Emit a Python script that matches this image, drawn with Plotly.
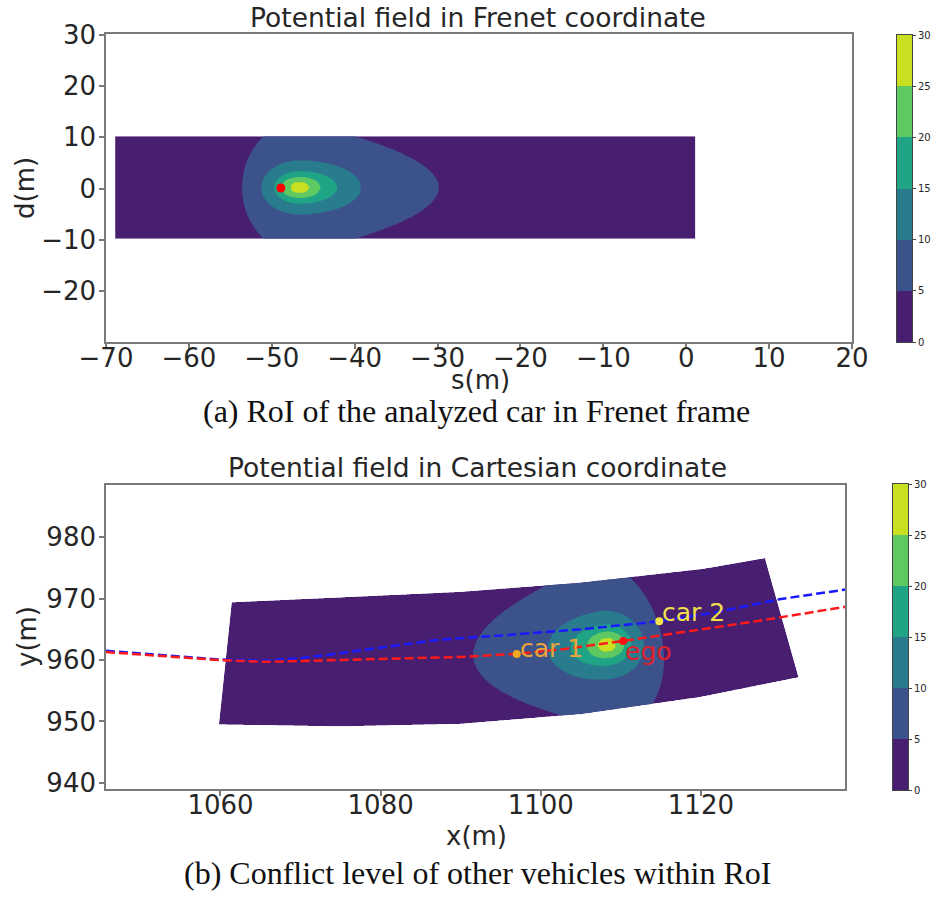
import numpy as np
import plotly.graph_objects as go

# ---------------- data ----------------
# Region of interest in Frenet coordinates (m)
road_s_range = [-68.9, 1.1]
road_d_range = [-9.8, 10.2]

# Potential field: peak position and extent of each iso-level around it (m)
field_peak_s = -46.6
field_peak_d = 0.2
field_levels = [0, 5, 10, 15, 20, 25, 28]
level_behind = [20.0, 7.0, 4.7, 3.1, 2.3, 1.2, 0.3]    # towards -s
level_ahead = [45.0, 16.8, 7.4, 4.5, 2.5, 1.2, 0.3]    # towards +s
level_side = [30.0, 12.9, 5.3, 3.2, 2.1, 1.15, 0.3]    # lateral (d)
level_ahead_power = [2, 1, 2, 2, 2, 2, 2]

ego_s = [-48.9]
ego_d = [0.1]

# Road edges in Cartesian coordinates, ordered from s_min to s_max
road_lower_x = [1132.2, 1120.0, 1105.0, 1090.0, 1075.0, 1059.8]
road_lower_y = [957.2, 954.0, 951.2, 949.6, 949.2, 949.5]
road_upper_x = [1128.0, 1120.0, 1105.0, 1090.0, 1075.0, 1061.4]
road_upper_y = [976.6, 974.8, 972.6, 971.1, 970.2, 969.4]

# Trajectories (m)
ego_path_x = [1045.7, 1052.0, 1059.8, 1065.5, 1072.0, 1082.3, 1090.0, 1097.0,
              1103.0, 1110.3, 1119.8, 1127.3, 1138.2]
ego_path_y = [961.3, 960.7, 960.0, 959.7, 959.9, 960.3, 960.5, 961.0,
              961.8, 963.1, 964.9, 966.4, 968.7]
car2_path_x = [1045.7, 1059.8, 1065.5, 1070.0, 1076.0, 1082.3, 1087.3, 1095.0,
               1105.0, 1114.8, 1122.0, 1129.8, 1138.2]
car2_path_y = [961.5, 960.1, 959.9, 960.3, 961.3, 962.4, 963.3, 964.0,
               965.0, 966.3, 967.8, 969.9, 971.5]

# Vehicles in Cartesian coordinates
veh_names = ["car 1", "car 2", "ego"]
veh_x = [1097.0, 1114.8, 1110.3]
veh_y = [961.0, 966.3, 963.1]
veh_colors = ["#f5a623", "#f2e24a", "#ff1010"]
veh_text_colors = ["#eaa43a", "#f0e04a", "#e0202a"]
veh_label_shift = [(1, -11), (1, -8), (0, -27)]

# Band colours (viridis sampled at band centres) and colorbar ticks
band_colors = ["#481f70", "#3b528b", "#287c8e", "#20a486", "#5ec962", "#c8e020"]
band_edges = [0, 5, 10, 15, 20, 25, 30]

# ---------------- field on the Frenet grid ----------------
s_grid = np.linspace(road_s_range[0], road_s_range[1], 281)
d_grid = np.linspace(road_d_range[0], road_d_range[1], 81)
S, D = np.meshgrid(s_grid, d_grid)
ds = S - field_peak_s
dd = D - field_peak_d
r = []
for beh, ahd, side, p in zip(level_behind, level_ahead, level_side, level_ahead_power):
    along = np.where(ds >= 0, (np.abs(ds) / ahd) ** p, (np.abs(ds) / beh) ** 2)
    r.append(along + (dd / side) ** 2)
r = np.maximum.accumulate(np.array(r), axis=0)
z = np.empty_like(S)
for idx in np.ndindex(S.shape):
    z[idx] = np.interp(1.0, r[(slice(None),) + idx], field_levels)

# ---------------- Frenet -> Cartesian grid for the carpet ----------------
def resample_edge(xs, ys, t):
    xs = np.asarray(xs); ys = np.asarray(ys)
    seg = np.hypot(np.diff(xs), np.diff(ys))
    cum = np.concatenate([[0.0], np.cumsum(seg)]) / seg.sum()
    return np.interp(t, cum, xs), np.interp(t, cum, ys)

t = (s_grid - road_s_range[0]) / (road_s_range[1] - road_s_range[0])
lx, ly = resample_edge(road_lower_x, road_lower_y, t)
ux, uy = resample_edge(road_upper_x, road_upper_y, t)
w = (d_grid - road_d_range[0]) / (road_d_range[1] - road_d_range[0])
X = ux[None, :] + w[:, None] * (lx - ux)[None, :]
Y = uy[None, :] + w[:, None] * (ly - uy)[None, :]

# ---------------- figure ----------------
W, H = 937, 899
def px(xp): return xp / W
def py(yp): return 1 - yp / H

band_scale = [[i / 5, c] for i, c in enumerate(band_colors)]
contour_levels = dict(start=5, end=25, size=5, coloring="fill", showlines=False)
FONT = "DejaVu Sans"
TXT = "#262626"
SPINE = "#7a7a7a"

fig = go.Figure()

# Frenet field
fig.add_trace(go.Contour(
    x=s_grid, y=d_grid, z=z, autocontour=False, contours=contour_levels,
    colorscale=band_scale, line=dict(width=0), xaxis="x", yaxis="y",
    showscale=False, hoverinfo="skip",
))
fig.add_trace(go.Scatter(
    x=ego_s, y=ego_d, mode="markers", marker=dict(color="#ff0000", size=9),
    xaxis="x", yaxis="y", showlegend=False,
))

# Cartesian field on the curved road
no_axis = dict(showgrid=False, showline=False, showticklabels="none",
               startline=False, endline=False, minorgridcount=0,
               gridcolor="rgba(0,0,0,0)", linecolor="rgba(0,0,0,0)")
fig.add_trace(go.Carpet(
    a=s_grid, b=d_grid, x=X, y=Y, carpet="road", xaxis="x2", yaxis="y2",
    aaxis=no_axis, baxis=no_axis, color="rgba(0,0,0,0)",
))
fig.add_trace(go.Contourcarpet(
    a=s_grid, b=d_grid, z=z, carpet="road", autocontour=False,
    contours=contour_levels, colorscale=band_scale, line=dict(width=0),
    xaxis="x2", yaxis="y2", showscale=False,
))

fig.add_trace(go.Scatter(
    x=car2_path_x, y=car2_path_y, mode="lines",
    line=dict(color="#1a1aff", width=2.5, dash="9px,4px"),
    xaxis="x2", yaxis="y2", showlegend=False,
))
fig.add_trace(go.Scatter(
    x=ego_path_x, y=ego_path_y, mode="lines",
    line=dict(color="#ff1a1a", width=2.5, dash="9px,4px"),
    xaxis="x2", yaxis="y2", showlegend=False,
))
fig.add_trace(go.Scatter(
    x=veh_x, y=veh_y, mode="markers",
    marker=dict(color=veh_colors, size=8),
    xaxis="x2", yaxis="y2", showlegend=False,
))

# Discrete colour bars (one per panel)
band_mid = [(a + b) / 2 for a, b in zip(band_edges[:-1], band_edges[1:])]
for xa, ya in (("x3", "y3"), ("x4", "y4")):
    fig.add_trace(go.Heatmap(
        x=[0], y=band_mid, z=[[i] for i in range(len(band_colors))],
        colorscale=band_scale, zmin=0, zmax=len(band_colors) - 1,
        showscale=False, xaxis=xa, yaxis=ya, hoverinfo="skip",
    ))

annotations = []
for name, vx, vy, tc, (xs_, ys_) in zip(veh_names, veh_x, veh_y, veh_text_colors, veh_label_shift):
    annotations.append(dict(
        x=vx, y=vy, xref="x2", yref="y2", text=name, showarrow=False,
        xanchor="left", yanchor="bottom", xshift=xs_, yshift=ys_,
        font=dict(family=FONT, size=25, color=tc),
    ))

def label(text, xp, yp, size, family=FONT, angle=0):
    annotations.append(dict(
        x=px(xp), y=py(yp), xref="paper", yref="paper", text=text, showarrow=False,
        xanchor="center", yanchor="middle", textangle=angle,
        font=dict(family=family, size=size, color="#111" if family != FONT else TXT),
    ))

label("Potential field in Frenet coordinate", 478, 17, 26.5)
label("d(m)", 25, 188, 26, angle=-90)
label("s(m)", 480, 380, 26)
label("(a) RoI of the analyzed car in Frenet frame", 476, 411, 32, family="Liberation Serif")
label("Potential field in Cartesian coordinate", 477, 467, 26.5)
label("y(m)", 27, 637, 26, angle=-90)
label("x(m)", 476, 836, 26)
label("(b) Conflict level of other vehicles within RoI", 477, 873, 32, family="Liberation Serif")

def minus(v):
    return f"\u2212{abs(v)}" if v < 0 else f"{v}"

axis_common = dict(
    showgrid=False, zeroline=False, showline=True, mirror=True, automargin=False,
    linecolor=SPINE, linewidth=1.6, ticks="outside", ticklen=5, tickwidth=1.5,
    tickcolor=SPINE, tickfont=dict(family=FONT, size=26, color=TXT), tickmode="array",
)
x_shift = dict(ticklabelstandoff=-13)
y_shift = dict(ticklabelstandoff=-2)
cbar_x = dict(showgrid=False, zeroline=False, showline=True, mirror=True, automargin=False,
              linecolor="#444", linewidth=1, showticklabels=False, ticks="", range=[-0.5, 0.5])
cbar_y = dict(showgrid=False, zeroline=False, showline=True, mirror=True, automargin=False,
              linecolor="#444", linewidth=1, side="right", range=[0, 30], ticks="outside",
              ticklen=3, tickwidth=1, tickcolor="#444", tickmode="array",
              tickvals=band_edges, tickfont=dict(family=FONT, size=10, color=TXT))
x_ticks_top = list(range(-70, 21, 10))
y_ticks_top = list(range(-20, 31, 10))
x_ticks_bot = [1060, 1080, 1100, 1120]
y_ticks_bot = [940, 950, 960, 970, 980]

fig.update_layout(
    width=W, height=H, margin=dict(l=0, r=0, t=0, b=0, autoexpand=False),
    paper_bgcolor="white", plot_bgcolor="white", showlegend=False,
    xaxis=dict(axis_common, **x_shift, domain=[px(106), px(852)], range=[-70, 20], anchor="y",
               tickvals=x_ticks_top, ticktext=[minus(v) for v in x_ticks_top]),
    yaxis=dict(axis_common, **y_shift, domain=[py(342), py(34)], range=[-29.9, 30.1], anchor="x",
               tickvals=y_ticks_top, ticktext=[minus(v) for v in y_ticks_top]),
    xaxis2=dict(axis_common, **x_shift, domain=[px(106), px(845)], range=[1045.7, 1138], anchor="y2",
                tickvals=x_ticks_bot, ticktext=[str(v) for v in x_ticks_bot]),
    yaxis2=dict(axis_common, **y_shift, domain=[py(789), py(485)], range=[939, 988.5], anchor="x2",
                tickvals=y_ticks_bot, ticktext=[str(v) for v in y_ticks_bot]),
    xaxis3=dict(cbar_x, domain=[px(897), px(912)], anchor="y3"),
    yaxis3=dict(cbar_y, domain=[py(342), py(35)], anchor="x3"),
    xaxis4=dict(cbar_x, domain=[px(893), px(908)], anchor="y4"),
    yaxis4=dict(cbar_y, domain=[py(790), py(484)], anchor="x4"),
    annotations=annotations,
)

fig.write_html("out.html")
